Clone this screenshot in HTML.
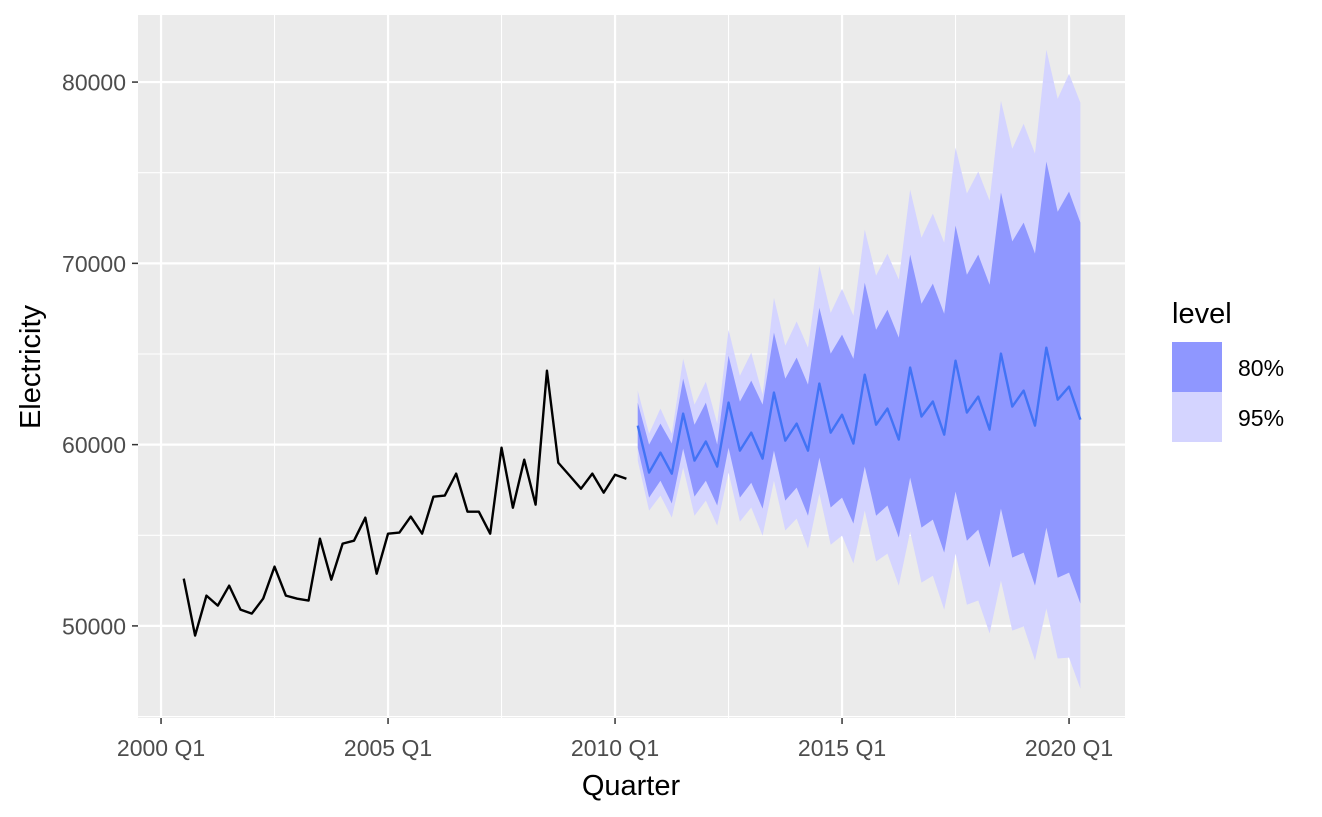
<!DOCTYPE html>
<html><head><meta charset="utf-8"><style>
html,body{margin:0;padding:0;background:#fff;}
svg{display:block;font-family:"Liberation Sans",Arial,sans-serif;}
</style></head><body>
<svg id="chart" width="1322" height="817" viewBox="0 0 1322 817">
<rect x="138" y="15" width="987" height="703" fill="#ebebeb"/>
<g id="grid"></g>
<g id="ribbons"></g>
<g id="lines"></g>
<g id="axes"></g>
<text x="631" y="795" text-anchor="middle" font-size="29" fill="#000">Quarter</text>
<text transform="translate(40,367) rotate(-90)" text-anchor="middle" font-size="29" fill="#000">Electricity</text>
<g>
<text x="1172" y="323" font-size="29" fill="#000">level</text>
<rect x="1172" y="342" width="50" height="50" fill="#8f97ff"/>
<rect x="1172" y="392" width="50" height="50" fill="#d4d4ff"/>
<text x="1238" y="376" font-size="23" fill="#000">80%</text>
<text x="1238" y="426" font-size="23" fill="#000">95%</text>
</g>
</svg>
<script>
// quarters since 2000 Q1
const histStart = 2;
const histValues = [52610,49470,51670,51120,52220,50900,50680,51510,53270,51670,51500,51400,54810,52550,54540,54700,55970,52880,55090,55150,56030,55090,57130,57190,58400,56300,56300,55090,59830,56520,59170,56690,64080,59000,58290,57570,58400,57350,58340,58120];
const fcStart = 42;
const fcMean = [61050,58460,59560,58400,61710,59120,60170,58790,62320,59670,60660,59230,62870,60220,61160,59670,63370,60660,61650,60060,63860,61100,61990,60280,64250,61550,62380,60550,64630,61770,62650,60830,65020,62100,62980,61050,65350,62480,63200,61380];
const up95 = [62980,60610,61990,60610,64740,62210,63470,61160,66340,63800,65070,62760,68100,65460,66790,65350,69870,67270,68600,67110,71860,69320,70530,69100,74070,71420,72740,71140,76390,73850,75060,73460,78970,76320,77700,76050,81780,79080,80460,78860];
const up80 = [62320,60000,61160,60060,63640,61100,62320,60000,64910,62370,63530,62210,66180,63640,64800,63310,67550,65020,66070,64740,68930,66340,67440,65900,70480,67770,68880,67220,72080,69370,70480,68820,73910,71210,72250,70540,75610,72850,73960,72250];
const lo80 = [59830,57080,58010,56750,59780,57130,58010,56640,59830,57080,57900,56470,59670,56910,57630,56080,59280,56530,57080,55640,58790,56080,56640,54870,58180,55420,55860,54040,57410,54700,55310,53220,56470,53770,54040,52220,55420,52660,52940,51230];
const lo95 = [59120,56360,57190,55970,58730,56080,56910,55530,58460,55750,56530,54980,58010,55260,55920,54260,57300,54480,54980,53440,56360,53550,53990,52220,55200,52390,52770,50900,53990,51170,51400,49580,52500,49740,49970,48090,50960,48200,48250,46540];
const xTickLabels = ["2000 Q1","2005 Q1","2010 Q1","2015 Q1","2020 Q1"];
const xTickQuarters = [0,20,40,60,80];
const yTicks = [50000,60000,70000,80000];

const px0=138,px1=1125,py0=15,py1=718;
const xDom=[-2.03,84.93], yDom=[44920,83700];
function X(q){return px0+(q-xDom[0])/(xDom[1]-xDom[0])*(px1-px0);}
function Y(v){return py1-(v-yDom[0])/(yDom[1]-yDom[0])*(py1-py0);}
const NS="http://www.w3.org/2000/svg";
function mk(tag,attrs,parent){const e=document.createElementNS(NS,tag);for(const k in attrs)e.setAttribute(k,attrs[k]);parent.appendChild(e);return e;}
const grid=document.getElementById('grid'),rib=document.getElementById('ribbons'),lines=document.getElementById('lines'),axes=document.getElementById('axes');
for(let i=0;i<xTickQuarters.length-1;i++){const q=(xTickQuarters[i]+xTickQuarters[i+1])/2;const l=mk('line',{x1:X(q),x2:X(q),y1:py0,y2:py1,stroke:'#fff','stroke-width':1.1},grid);

}
const yMinor=[45000].concat(yTicks.map(v=>v+5000));
yMinor.forEach(v=>{const y=Y(v);if(y>=py0&&y<=py1){const l=mk('line',{x1:px0,x2:px1,y1:y,y2:y,stroke:'#fff','stroke-width':1.1},grid);

}});
xTickQuarters.forEach((q,i)=>{const l=mk('line',{x1:X(q),x2:X(q),y1:py0,y2:py1,stroke:'#fff','stroke-width':2.2},grid);


const t=mk('line',{x1:X(q),x2:X(q),y1:py1,y2:py1+6,stroke:'#333','stroke-width':1.5},axes);


const tx=mk('text',{x:X(q),y:py1+38,'text-anchor':'middle','font-size':23,fill:'#4d4d4d'},axes);tx.textContent=xTickLabels[i];

});
yTicks.forEach(v=>{const y=Y(v);const l=mk('line',{x1:px0,x2:px1,y1:y,y2:y,stroke:'#fff','stroke-width':2.2},grid);


const t=mk('line',{x1:px0-6,x2:px0,y1:y,y2:y,stroke:'#333','stroke-width':1.5},axes);


const tx=mk('text',{x:px0-12,y:y+8.5,'text-anchor':'end','font-size':23,fill:'#4d4d4d'},axes);tx.textContent=v;

});
function band(hi,lo,color,name){let d='';hi.forEach((v,i)=>{d+=(i?'L':'M')+X(fcStart+i)+','+Y(v);});for(let i=lo.length-1;i>=0;i--)d+='L'+X(fcStart+i)+','+Y(lo[i]);d+='Z';
const p=mk('path',{d:d,fill:color},rib);

}
band(up95,lo95,'#d4d4ff','interval-95');
band(up80,lo80,'#8f97ff','interval-80');
function line(vals,start,color,name){const pts=vals.map((v,i)=>X(start+i)+','+Y(v)).join(' ');
const p=mk('polyline',{points:pts,fill:'none',stroke:color,'stroke-width':2.4,'stroke-linejoin':'round'},lines);

}
line(histValues,histStart,'#000','historical-line');
line(fcMean,fcStart,'#4273f5','forecast-mean-line');
</script>
</body></html>
